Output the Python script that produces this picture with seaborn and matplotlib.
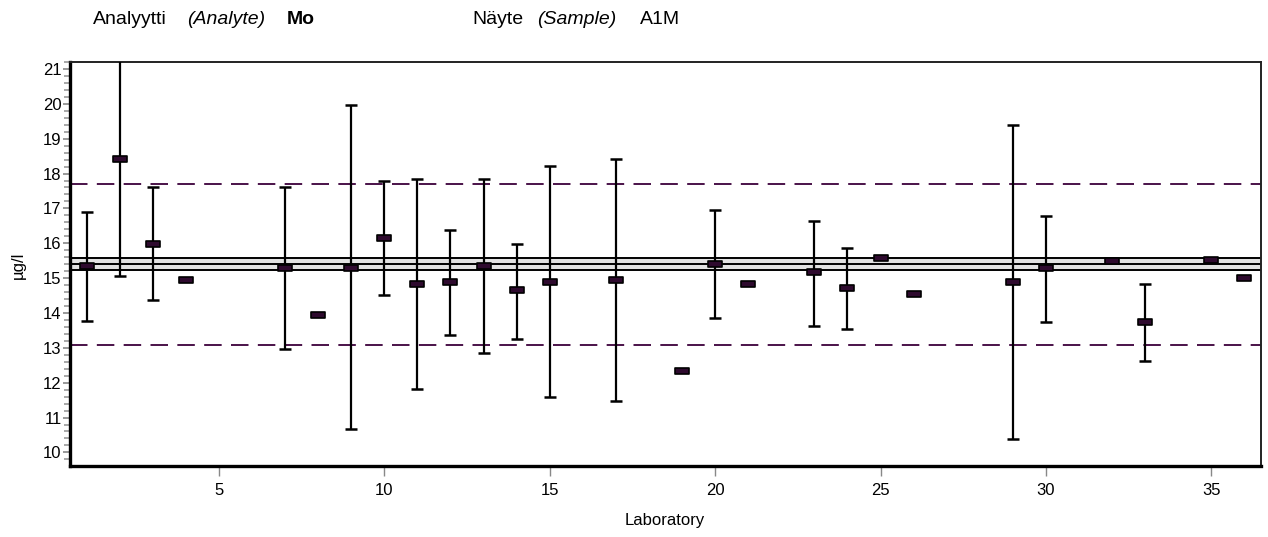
import numpy as np
import pandas as pd
import matplotlib
matplotlib.use("Agg")
import matplotlib.pyplot as plt
from matplotlib.path import Path
from matplotlib.ticker import MultipleLocator
import seaborn as sns

# ---- data ----
labs = [1, 2, 3, 4, 7, 8, 9, 10, 11, 12, 13, 14, 15, 17, 19, 20, 21, 23, 24, 25, 26, 29, 30, 32, 33, 35, 36]
results = [15.34, 18.41, 15.98, 14.94, 15.30, 13.95, 15.30, 16.15, 14.83, 14.89, 15.34, 14.66, 14.89, 14.94,
           12.34, 15.40, 14.83, 15.17, 14.71, 15.58, 14.54, 14.89, 15.30, 15.48, 13.73, 15.51, 15.00]
upper = [16.89, 21.80, 17.60, np.nan, 17.60, np.nan, 19.97, 17.78, 17.83, 16.38, 17.83, 15.98, 18.22, 18.41,
         np.nan, 16.95, np.nan, 16.65, 15.85, np.nan, np.nan, 19.39, 16.78, np.nan, 14.83, np.nan, np.nan]
lower = [13.78, 15.06, 14.37, np.nan, 12.97, np.nan, 10.67, 14.53, 11.82, 13.38, 12.86, 13.26, 11.59, 11.48,
         np.nan, 13.85, np.nan, 13.62, 13.55, np.nan, np.nan, 10.38, 13.74, np.nan, 12.63, np.nan, np.nan]
assigned_value = 15.4
assigned_unc = [15.23, 15.57]
tolerance_limits = [13.09, 17.71]
y_ticks = list(range(10, 22))
x_ticks = [5, 10, 15, 20, 25, 30, 35]

df = pd.DataFrame({"lab": labs, "result": results, "upper": upper, "lower": lower})

sns.set_theme(style="white")
plt.rcParams["font.family"] = ["Liberation Sans", "DejaVu Sans"]
plt.rcParams["text.color"] = "black"
plt.rcParams["xtick.labelcolor"] = "black"
plt.rcParams["ytick.labelcolor"] = "black"

W, H = 1268, 537
fig = plt.figure(figsize=(W / 100, H / 100), dpi=100)
ax = fig.add_axes([70 / W, 1 - 466 / H, (1261 - 70) / W, (466 - 62) / H])

purple = "#4a1249"

# uncertainty band of the assigned value
ax.axhspan(assigned_unc[0], assigned_unc[1], color="#e2e2e2", zorder=1, lw=0)
for yv in assigned_unc + [assigned_value]:
    ax.axhline(yv, color="black", lw=1.4, zorder=2)

# tolerance limits
for yv in tolerance_limits:
    ax.axhline(yv, color=purple, lw=1.4, linestyle=(0, (9, 4.8)), zorder=2)

# error bars
eb = df.dropna()
_, caps, bars = ax.errorbar(eb["lab"], eb["result"],
                            yerr=[eb["result"] - eb["lower"], eb["upper"] - eb["result"]],
                            fmt="none", ecolor="black", elinewidth=1.6, capsize=4.0, capthick=1.8, zorder=3)
for c in caps:
    c.set_color(purple)

# result markers (flat rectangles)
rect = Path([(-1, -0.48), (1, -0.48), (1, 0.48), (-1, 0.48), (-1, -0.48)],
            [Path.MOVETO, Path.LINETO, Path.LINETO, Path.LINETO, Path.CLOSEPOLY])
sns.scatterplot(data=df, x="lab", y="result", marker=rect, s=95, color="#2e0a2e",
                edgecolor="black", linewidth=1.2, ax=ax, zorder=4, legend=False)

ax.set_xlim(0.5, 36.5)
ax.set_ylim(9.61, 21.2)
ax.set_xticks(x_ticks)
ax.set_yticks(y_ticks)
ax.yaxis.set_minor_locator(MultipleLocator(0.2))
ax.set_xlabel("")
ax.set_ylabel("")

ax.tick_params(axis="y", which="major", direction="out", length=5, width=1.2, color="#888888",
               labelsize=12, pad=1, left=True, labelcolor="black")
ax.tick_params(axis="y", which="minor", direction="out", length=4.5, width=1.2, color="#999999", left=True)
ax.tick_params(axis="x", which="major", direction="out", length=7, width=1.0, color="#888888",
               labelsize=12, pad=5, bottom=True, labelcolor="black")

for side in ["left", "bottom"]:
    ax.spines[side].set_linewidth(2.4)
    ax.spines[side].set_color("black")
for side in ["top", "right"]:
    ax.spines[side].set_linewidth(1.4)
    ax.spines[side].set_color("#222222")

# header texts
ty = 1 - 19 / H
fs = 14
fig.text(93 / W, ty, "Analyytti", fontsize=fs, va="center", ha="left")
fig.text(187 / W, ty, "(Analyte)", fontsize=fs, style="italic", va="center", ha="left")
fig.text(287 / W, ty, "Mo", fontsize=fs, weight="bold", va="center", ha="left")
fig.text(472 / W, ty, "Näyte", fontsize=fs, va="center", ha="left")
fig.text(537 / W, ty, "(Sample)", fontsize=fs, style="italic", va="center", ha="left")
fig.text(640 / W, ty, "A1M", fontsize=fs, va="center", ha="left")

fig.text(18 / W, 1 - 265 / H, "µg/l", fontsize=12, rotation=90, va="center", ha="center")
fig.text(665 / W, 1 - 521 / H, "Laboratory", fontsize=12, va="center", ha="center")

fig.savefig("out.png", dpi=100)
